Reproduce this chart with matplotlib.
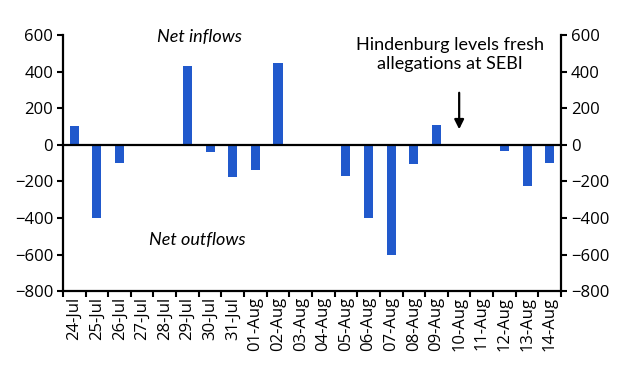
import numpy as np
import matplotlib.pyplot as plt

plt.rcParams['font.family'] = ['Open Sans', 'DejaVu Sans']

# Daily net flows (24-Jul to 14-Aug), weekends have no value
dates = ['24-Jul', '25-Jul', '26-Jul', '27-Jul', '28-Jul', '29-Jul', '30-Jul', '31-Jul',
         '01-Aug', '02-Aug', '03-Aug', '04-Aug', '05-Aug', '06-Aug', '07-Aug', '08-Aug',
         '09-Aug', '10-Aug', '11-Aug', '12-Aug', '13-Aug', '14-Aug']
flows = [105, -400, -100, 0, 0, 430, -40, -175,
         -140, 450, 0, 0, -170, -400, -600, -105,
         107, 0, 0, -33, -225, -100]
yticks = [-800, -600, -400, -200, 0, 200, 400, 600]
event_date = '10-Aug'

bar_color = '#2159CC'
x = np.arange(len(dates))

fig = plt.figure(figsize=(6.29, 3.78), dpi=100)
ax = fig.add_axes([0.1, 0.23, 0.792, 0.677])
ax.bar(x, flows, width=0.4, color=bar_color, zorder=2)
ax.axhline(0, color='black', lw=1.6, zorder=3)

ax.set_xlim(-0.5, len(dates) - 0.5)
ax.set_ylim(-800, 600)
ax.set_yticks(yticks)

# ticks at category boundaries, labels centred in categories
ax.set_xticks(np.arange(len(dates) + 1) - 0.5)
ax.set_xticklabels([])
ax.set_xticks(x, minor=True)
ax.set_xticklabels(dates, minor=True, rotation=90, fontsize=12)
ax.tick_params(axis='x', which='major', length=4, width=1.5, direction='out')
ax.tick_params(axis='x', which='minor', length=0, pad=4)
ax.tick_params(axis='y', length=4, width=1.5, labelsize=12, pad=3)

for s in ['left', 'bottom']:
    ax.spines[s].set_linewidth(1.6)
ax.spines['top'].set_visible(False)
ax.spines['right'].set_visible(False)

ax2 = ax.twinx()
ax2.set_ylim(-800, 600)
ax2.set_yticks(yticks)
ax2.tick_params(axis='y', length=4, width=1.5, labelsize=12, pad=3)
ax2.spines['right'].set_linewidth(1.6)
for s in ['left', 'top', 'bottom']:
    ax2.spines[s].set_visible(False)

note_font = ['Lato', 'DejaVu Sans']
ax.text(5.55, 589, 'Net inflows', style='italic', fontsize=13, ha='center', va='center',
        family=note_font)
ax.text(5.45, -522, 'Net outflows', style='italic', fontsize=13, ha='center', va='center',
        family=note_font)

ex = dates.index(event_date)
ax.text(ex - 0.4, 493, 'Hindenburg levels fresh\nallegations at SEBI', fontsize=13,
        ha='center', va='center', linespacing=1.2, family=note_font)
ax.annotate('', xy=(ex, 70), xytext=(ex, 300),
            arrowprops=dict(arrowstyle='-|>', color='black', lw=1.6, mutation_scale=14))

fig.savefig('out.png', dpi=100)
